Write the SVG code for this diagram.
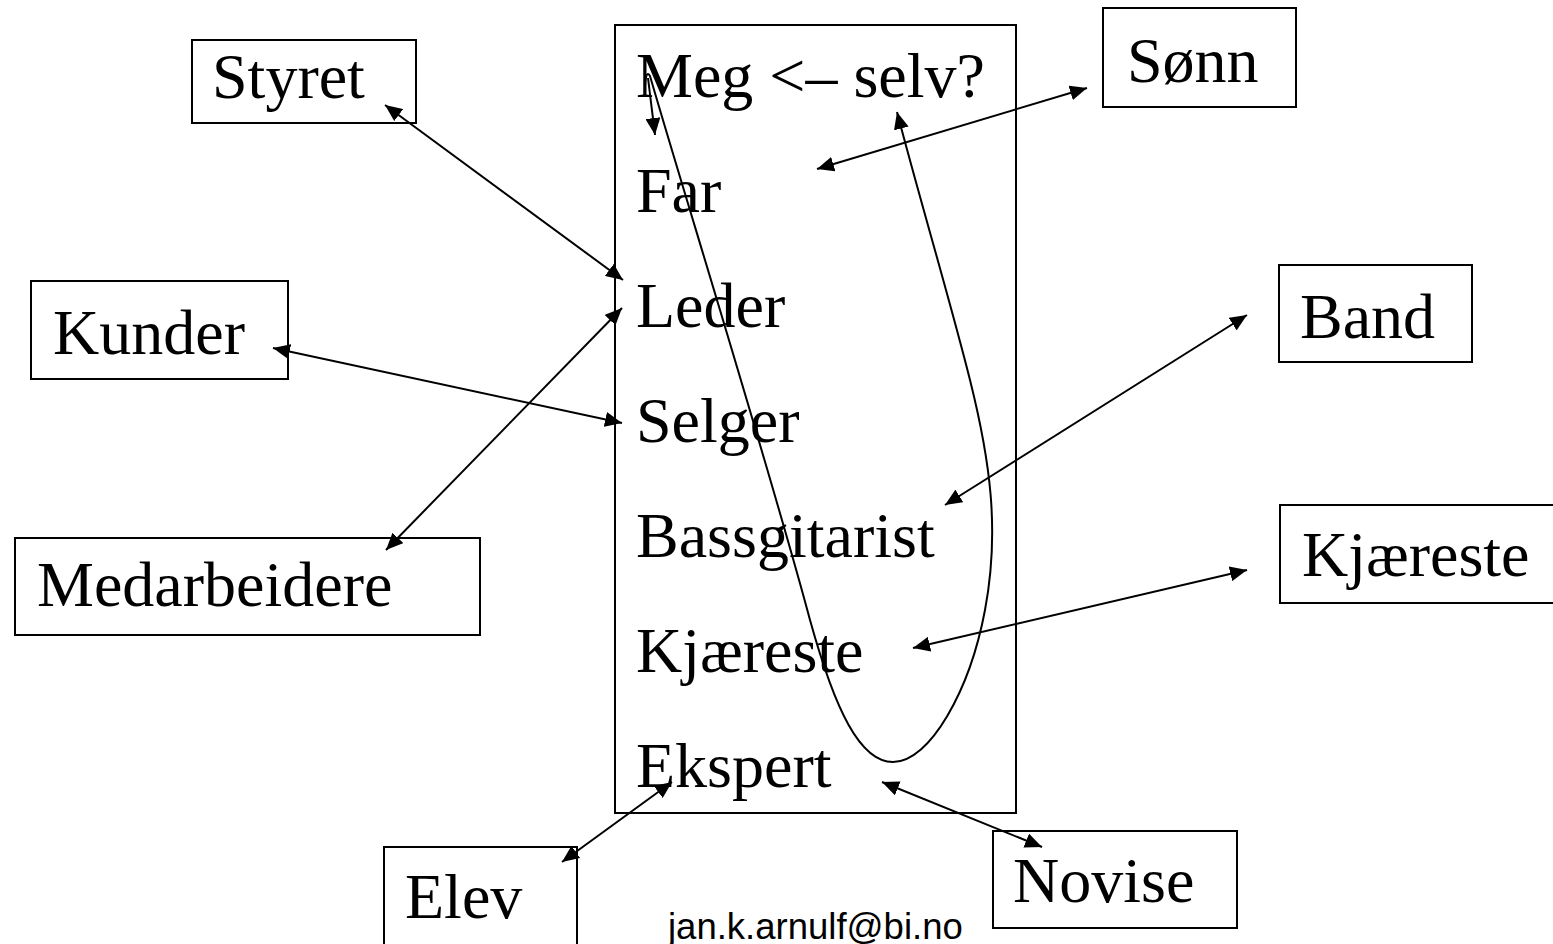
<svg xmlns="http://www.w3.org/2000/svg" width="1553" height="944" viewBox="0 0 1553 944">
<style>
.box{fill:#fff;stroke:#000;stroke-width:2}
.lbl{font-family:"Liberation Serif","Times New Roman",serif;font-size:64px;fill:#000}
.con{fill:none;stroke:#000;stroke-width:2}
.dbl{marker-start:url(#ah);marker-end:url(#ah)}
.one{marker-end:url(#ah)}
.mail{font-family:"Liberation Sans",Arial,sans-serif;font-size:36.5px;fill:#000}
</style>
<defs>
<marker id="ah" markerUnits="userSpaceOnUse" markerWidth="19" markerHeight="15" refX="17" refY="7.5" orient="auto-start-reverse">
<path d="M0,0 L17,7.5 L0,15 z" fill="#000"/>
</marker>
</defs>
<rect width="1553" height="944" fill="#fff"/>
<g id="roles">
<rect class="box" x="615" y="25" width="401" height="788"/>
<text class="lbl" x="636" y="97">Meg &lt;– selv?</text>
<text class="lbl" x="636" y="212">Far</text>
<text class="lbl" x="636" y="327">Leder</text>
<text class="lbl" x="636" y="442">Selger</text>
<text class="lbl" x="636" y="557">Bassgitarist</text>
<text class="lbl" x="636" y="672">Kjæreste</text>
<text class="lbl" x="636" y="787">Ekspert</text>
</g>
<g id="styret"><rect class="box" x="192" y="40" width="224" height="83"/><text class="lbl" x="212" y="98">Styret</text></g>
<g id="sonn"><rect class="box" x="1103" y="8" width="193" height="99"/><text class="lbl" x="1127" y="82">Sønn</text></g>
<g id="kunder"><rect class="box" x="31" y="281" width="257" height="98"/><text class="lbl" x="53" y="354">Kunder</text></g>
<g id="band"><rect class="box" x="1279" y="265" width="193" height="97"/><text class="lbl" x="1300" y="338">Band</text></g>
<g id="medarbeidere"><rect class="box" x="15" y="538" width="465" height="97"/><text class="lbl" x="37" y="606">Medarbeidere</text></g>
<g id="kjareste2"><rect class="box" x="1280" y="505" width="290" height="98"/><text class="lbl" x="1302" y="576">Kjæreste</text></g>
<g id="elev"><rect class="box" x="384" y="847" width="193" height="120"/><text class="lbl" x="405" y="918">Elev</text></g>
<g id="novise"><rect class="box" x="993" y="831" width="244" height="97"/><text class="lbl" x="1013" y="902">Novise</text></g>
<g id="connectors">
<line class="con dbl" x1="385" y1="105" x2="623" y2="280"/>
<line class="con dbl" x1="1087" y1="88" x2="817" y2="169"/>
<line class="con dbl" x1="273" y1="348" x2="622" y2="423"/>
<line class="con dbl" x1="386" y1="550" x2="622" y2="308"/>
<line class="con dbl" x1="1247" y1="315" x2="945" y2="505"/>
<line class="con dbl" x1="1247" y1="570" x2="913" y2="648"/>
<line class="con dbl" x1="562" y1="862" x2="672" y2="782"/>
<line class="con dbl" x1="1042" y1="847" x2="882" y2="782"/>
<line class="con one" x1="648" y1="78" x2="655" y2="135"/>
<path class="con one" d="M645,88 C645,78 647,70 650,76 C680,180 770,470 810,620 C835,710 860,762 893,762 C930,762 970,690 985,610 C1000,530 990,460 970,380 C950,300 920,200 897,112"/>
</g>
<text class="mail" x="668" y="939">jan.k.arnulf@bi.no</text>
</svg>
